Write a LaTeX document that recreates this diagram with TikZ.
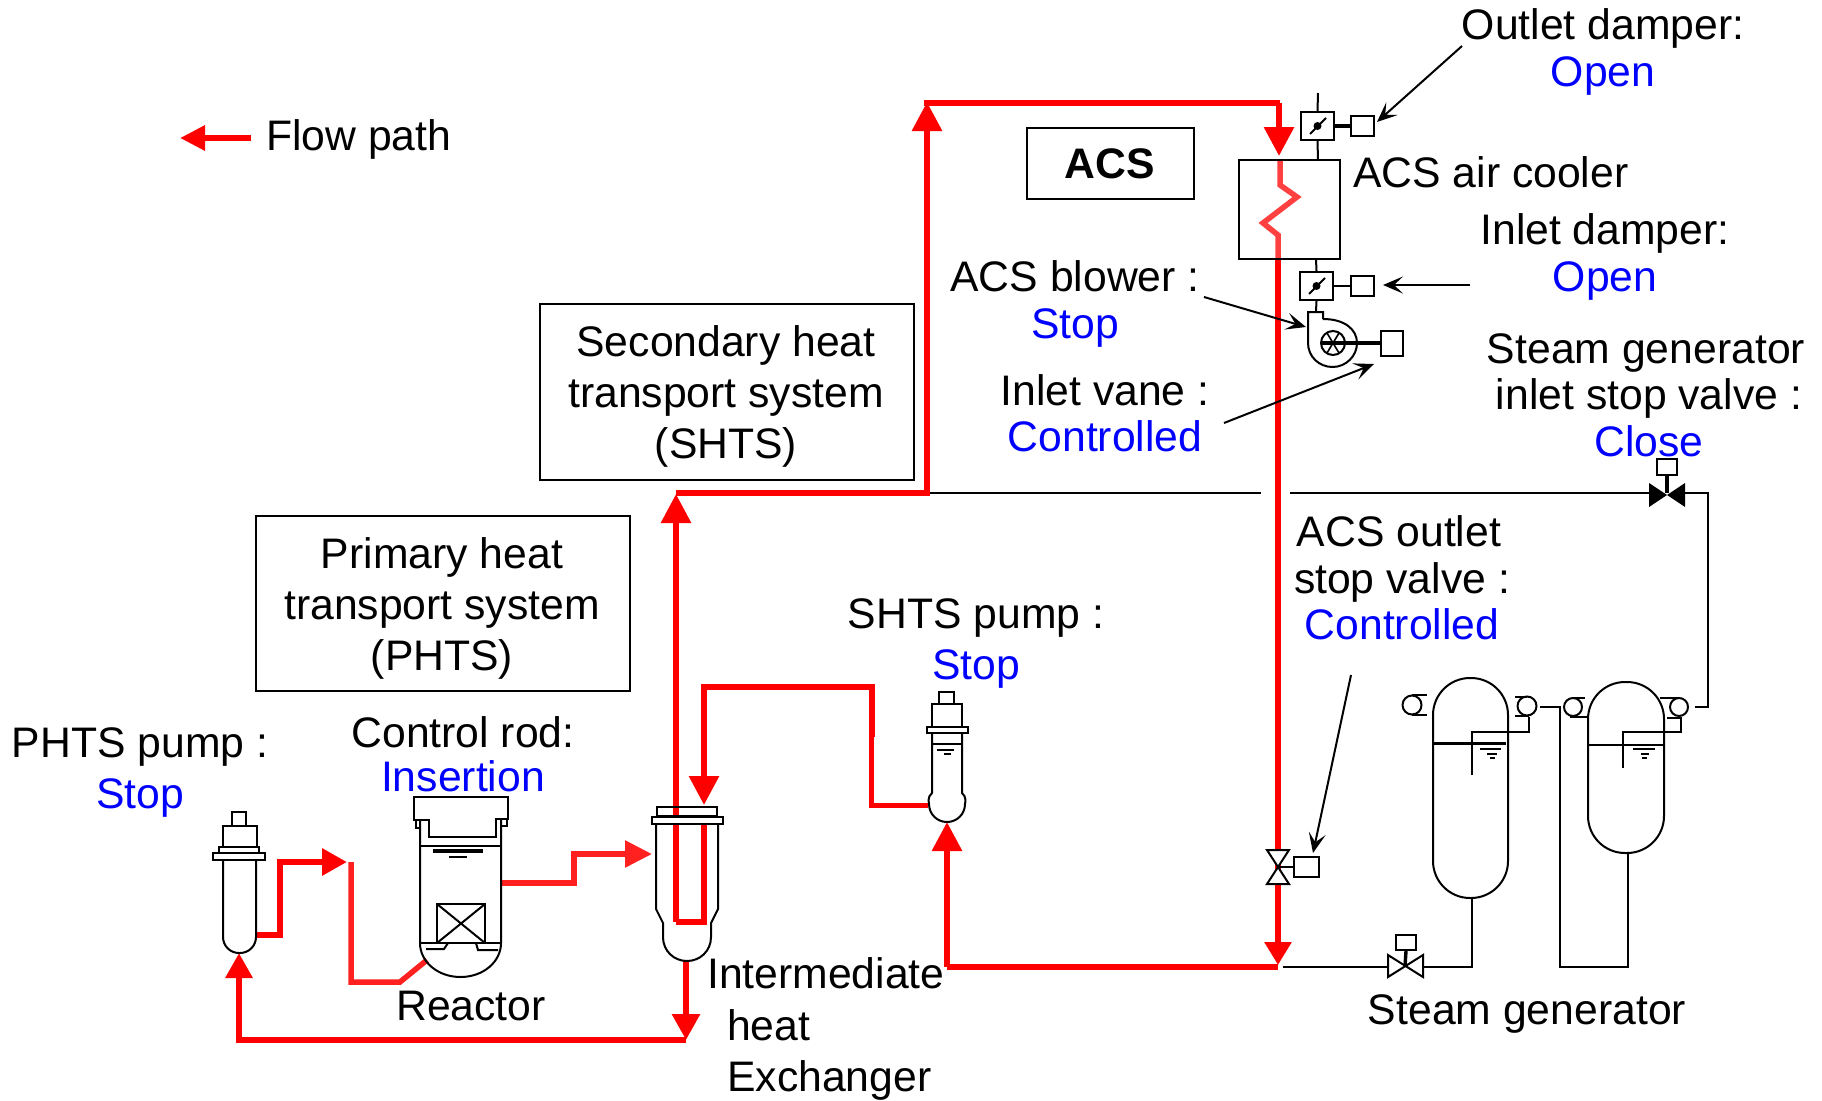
\documentclass[tikz,border=0pt]{standalone}
\usepackage{fontspec}
\setmainfont{Liberation Sans}
\usetikzlibrary{arrows.meta}
\definecolor{flowred}{HTML}{FF0000}
\definecolor{softred}{HTML}{FF2020}
\definecolor{coilred}{HTML}{FF4040}
\definecolor{statblue}{HTML}{0000FF}
\tikzset{
  lbl/.style={font=\fontsize{42.7}{46.5}\selectfont, inner sep=0pt, align=center},
  lblwide/.style={font=\fontsize{42.7}{51}\selectfont, inner sep=0pt, align=center},
  titlebox/.style={draw, line width=1.8pt, inner sep=0pt},
  thin pipe/.style={line width=2pt},
  equip/.style={line width=2pt},
  heavy/.style={line width=3.4pt},
  actbox/.style={draw, line width=2pt, inner sep=0pt},
  redpipe/.style={draw=flowred, line width=6pt},
  softpipe/.style={draw=softred, line width=5.5pt},
  redhead/.style={-{Triangle[length=29pt,width=29pt]}},
  note/.style={line width=2pt, -{Stealth[length=20pt,width=17pt,inset=9pt]}},
}
\newcommand{\stat}[1]{\textcolor{statblue}{#1}}
\begin{document}
\begin{tikzpicture}[x=1pt,y=-1pt]
\useasboundingbox (0,0) rectangle (1822,1100);

% ---------- title boxes
\node[titlebox, minimum width=167pt, minimum height=71pt] (acsbox) at (1110.5,163.5) {};
\node[font=\fontsize{42.7}{46}\selectfont\bfseries, inner sep=0pt] (acsname) at (1110,164) {ACS};
\node[titlebox, minimum width=374pt, minimum height=176pt] (shtsbox) at (727,392) {};
\node[lblwide] (shtsname) at (726,396) {Secondary heat\\transport system\\(SHTS)};
\node[titlebox, minimum width=374pt, minimum height=175pt] (phtsbox) at (443,603.5) {};
\node[lblwide] (phtsname) at (442,608) {Primary heat\\transport system\\(PHTS)};

% ---------- legend
\coordinate (legR) at (251,138);
\coordinate (legL) at (180,138);
\draw[redpipe, -{Triangle[length=25pt,width=24pt]}] (legR) -- (legL);
\node[lbl, anchor=west] (legtxt) at (266,139) {Flow path};

% ---------- labels
\node[lbl] (outd) at (1603,52) {Outlet damper:\\\stat{Open}};
\node[lbl, anchor=west] (coolerlbl) at (1353,172) {ACS air cooler};
\node[lbl] (ind) at (1605,257) {Inlet damper:\\\stat{Open}};
\node[lbl] (blow) at (1075,304) {ACS blower :\\\stat{Stop}};
\node[lbl] (vane) at (1105,413) {Inlet vane :\\\stat{Controlled}};
\node[lbl] (sgstop) at (1646,395) {Steam generator\\\hspace*{6pt}inlet stop valve :\\\hspace*{6pt}\stat{Close}};
\node[lbl] (acsout) at (1399,578) {ACS outlet\\\hspace*{6pt}stop valve :\\\hspace*{6pt}\stat{Controlled}};
\node[lblwide] (shtsp) at (976,644) {SHTS pump :\\\stat{Stop}};
\node[lblwide] (phtsp) at (140,773) {PHTS pump :\\\stat{Stop}};
\node[font=\fontsize{42.7}{44}\selectfont, inner sep=0pt, align=center] (crod) at (463,754) {Control rod:\\\stat{Insertion}};
\node[lbl] (reactlbl) at (471,1006) {Reactor};
\node[lbl, anchor=west] (ihx1) at (707,973) {Intermediate};
\node[lbl, anchor=west] (ihx2) at (727,1025) {heat};
\node[lbl, anchor=west] (ihx3) at (727,1080) {Exchanger};
\node[lbl] (sglbl) at (1527,1014) {Steam generator};

% ---------- equipment anchors
\coordinate (rT1) at (1280,103);
\coordinate (rT0) at (927,103);
\coordinate (r493a) at (927,493);
\coordinate (r493b) at (676,493);
\coordinate (cTop) at (1280,160);
\coordinate (cBot) at (1278,259);
\coordinate (vTop) at (1278,850);
\coordinate (vBot) at (1278,884);
\coordinate (rJoin) at (1278,966);
\coordinate (rCor) at (947,967);
\coordinate (shtsIn) at (947,822);

% ---------- red flow paths
\draw[redpipe] (rT0) ++(0,-3) -- ++(0,6);
\draw[redpipe, redhead] (1279,103) -- (1279,156);
\draw[redpipe] (rT0) -- (rT1);
\draw[redpipe, redhead] (927,496) -- (927,102);
\draw[redpipe] (927,493) -- (r493b);
\draw[redpipe, redhead] (676,922) -- (676,494);
\draw[redpipe] (676,922) -- (704,922) -- (704,824);
\draw[redpipe, redhead] (872,737) -- (872,687) -- (704,687) -- (704,805);
\draw[draw=flowred, line width=5pt] (871,737) -- (871,805) -- (928,805);
\draw[redpipe, redhead] (rCor) -- (shtsIn);
\draw[redpipe] (1278,967) -- (rCor);
\draw[redpipe, -{Triangle[length=23pt,width=26pt]}] (cBot) -- (1278,965);
\draw[draw=coilred, line width=5.5pt] (cTop) -- (1280,185) -- (1297,197) -- (1263,223) -- (1278,235) -- (cBot);
% primary
\draw[redpipe, -{Triangle[length=26pt,width=27pt]}] (686,961) -- (686,1040);
\draw[redpipe, -{Triangle[length=25pt,width=26pt]}] (686,1040) -- (239,1040) -- (239,953);
\draw[redpipe, -{Triangle[length=25pt,width=26pt]}] (257,935) -- (280,935) -- (280,862) -- (347,862);
\draw[softpipe] (351,862) -- (351,982) -- (400,982) -- (427,960);
\draw[softpipe, -{Triangle[length=27pt,width=26pt]}] (502,883) -- (574,883) -- (574,854) -- (652,854);

% ---------- IHX
\draw[equip] (656,824) -- (656,909) -- (663,923) -- (663,937) .. controls (663,951) and (674,961) .. (687,961) .. controls (700,961) and (711,951) .. (711,937) -- (711,923) -- (718,909) -- (718,824);
\draw[equip] (657,816) rectangle (717,807);
\draw[equip, fill=white] (652,817) rectangle (723,824);

% ---------- PHTS pump
\draw[equip] (232,812) rectangle (246,826);
\draw[equip] (223,826) rectangle (257,847);
\draw[equip] (219,847) rectangle (259,853);
\draw[equip] (213,853) rectangle (265,860);
\draw[equip, rounded corners=16pt] (223,860) -- (223,953) -- (256,953) -- (256,860);

% ---------- reactor
\draw[equip] (429,820) -- (414,820) -- (414,797) -- (508,797) -- (508,819) -- (496,819) -- (496,837) -- (429,837) -- cycle;
\draw[equip] (416,820) -- (416,828) -- (420,828);
\draw[equip] (507,819) -- (507,826) -- (501,826);
\draw[equip] (420,820) -- (420,943) .. controls (420,962) and (438,977) .. (460.5,977) .. controls (483,977) and (501,962) .. (501,943) -- (501,819);
\draw[equip] (420,846) -- (501,846);
\draw[heavy] (433,851) -- (483,851);
\draw[heavy, line width=2.6pt] (449,857) -- (467,857);
\draw[equip] (437,904) rectangle (485,943);
\draw[equip] (437,904) -- (485,943) (437,943) -- (485,904);
\draw[heavy, line width=2.6pt] (420,943) -- (501,943);
\draw[equip] (448,943) -- (444,949) -- (426,949);
\draw[equip] (476,943) -- (478,950) -- (498,950);

% ---------- SHTS pump
\draw[equip] (939,692) rectangle (954,704);
\draw[equip] (932,704) rectangle (962,727);
\draw[equip] (927,727) rectangle (968,733);
\draw[equip] (932,733) -- (932,793) .. controls (927,797) and (929,803) .. (929,804) .. controls (929,814) and (937,822) .. (947,822) .. controls (957,822) and (965,814) .. (965,804) .. controls (965,803) and (967,797) .. (962,793) -- (962,733);
\draw[heavy, line width=2.6pt] (932,744) -- (962,744);
\draw[equip] (937,750) -- (954,750);
\draw[heavy, line width=2.4pt] (944,754) -- (951,754);

% ---------- cooler, dampers, blower
\node[draw, line width=2pt, inner sep=0pt, minimum width=101pt, minimum height=99pt] (cooler) at (1289.5,209.5) {};
\coordinate (topstub) at (1318,93);
\node[actbox, minimum width=33pt, minimum height=28pt] (odbox) at (1317.5,126) {};
\node[actbox, minimum width=23pt, minimum height=20pt] (odact) at (1362.5,126) {};
\draw[equip] (topstub) -- (odbox.north);
\draw[equip] (odbox.south) -- (1318,160);
\draw[line width=3.4pt] (odbox.east) -- (odact.west);
\fill (odbox.center) circle[radius=4pt];
\draw[line width=2pt] (1310,134) -- (1326,118);

\node[actbox, minimum width=33pt, minimum height=28pt] (idbox) at (1316.5,286) {};
\node[actbox, minimum width=23pt, minimum height=20pt] (idact) at (1362.5,286) {};
\draw[equip] (1316,259) -- (idbox.north);
\draw[equip] (idbox.south) -- (1316,311);
\draw[line width=2pt] (idbox.east) -- (idact.west);
\fill (idbox.center) circle[radius=4pt];
\draw[line width=2pt] (1309,294) -- (1325,278);

\draw[equip] (1323,319) -- (1323,312) -- (1308,312) -- (1308,343) .. controls (1308,356.5) and (1319,367) .. (1332.5,367) .. controls (1346,367) and (1357,356) .. (1357,343) .. controls (1357,329) and (1344,319) .. (1323,319);
\node[draw, circle, line width=2pt, minimum size=24pt, inner sep=0pt] (imp) at (1333,343) {};
\draw[line width=1.6pt] (1327,333) -- (1339,353) (1327,353) -- (1339,333);
\node[actbox, minimum width=22pt, minimum height=25pt] (vaneact) at (1392,343) {};
\draw[line width=3.4pt] (1321,343) -- (vaneact.west);

% ---------- valve on ACS outlet
\draw[equip, fill=white] (1267,850) -- (1289,850) -- (1267,884) -- (1289,884) -- cycle;
\node[actbox, minimum width=25pt, minimum height=20pt] (aovact) at (1306.5,867) {};
\coordinate (aov) at (1278,867);
\draw[equip] (aov) -- (aovact.west);

% ---------- steam generator feed
\coordinate (sgL) at (1283,967);
\coordinate (sgv) at (1405,966);
\draw[thin pipe] (sgL) -- (1388,967);
\draw[equip] (1388,955) -- (1423,977) -- (1423,955) -- (1388,977) -- cycle;
\node[actbox, minimum width=20pt, minimum height=15pt] (sgvact) at (1406,942.5) {};
\draw[line width=3.4pt] (sgv) -- (sgvact.south);
\draw[thin pipe] (1423,967) -- (1472,967) -- (1472,898);

% ---------- steam generator 1
\node[draw, line width=2pt, inner sep=0pt, minimum width=75pt, minimum height=220pt, rounded corners=37pt] (sg1) at (1470.5,788) {};
\draw[line width=3pt] (1433,743) -- (1506,743);
\draw[equip] (1480,749) -- (1501,749);
\draw[equip] (1487,754) -- (1497,754);
\draw[equip] (1490,758) -- (1495,758);
\draw[equip] (1472,775) -- (1472,732) -- (1529,732) -- (1529,717);
\draw[equip] (1527,706) circle[radius=9.5pt];
\draw[equip] (1515,697) -- (1527,697) (1515,716) -- (1529,716);
\draw[equip] (1412,705) circle[radius=9.5pt];
\draw[equip] (1412,695) -- (1427,695) (1412,715) -- (1427,715);

% ---------- steam generator 2
\node[draw, line width=2pt, inner sep=0pt, minimum width=76pt, minimum height=171pt, rounded corners=37pt] (sg2) at (1626,767.5) {};
\draw[line width=2.4pt] (1588,745) -- (1664,745);
\draw[equip] (1633,749) -- (1655,749);
\draw[equip] (1641,754) -- (1649,754);
\draw[equip] (1642,758) -- (1647,758);
\draw[equip] (1623,768) -- (1623,732) -- (1681,732) -- (1681,717);
\draw[equip] (1679,707) circle[radius=9pt];
\draw[equip] (1660,698) -- (1679,698) (1667,718) -- (1682,718);
\draw[equip] (1573,707) circle[radius=9pt];
\draw[equip] (1573,698) -- (1585,698) (1570,717) -- (1587,717);
\draw[thin pipe] (1540,707) -- (1560,707) -- (1560,967) -- (1628,967) -- (1628,853);

% ---------- SG inlet stop valve and feed line
\coordinate (sivC) at (1667,493);
\fill (1649,483) -- (1685,507) -- (1685,483) -- (1649,507) -- cycle;
\node[actbox, minimum width=20pt, minimum height=16pt] (sivact) at (1667,467) {};
\draw[line width=3.4pt] (sivC) -- (sivact.south);
\draw[thin pipe] (1685,493) -- (1708,493) -- (1708,707) -- (1695,707);
\draw[thin pipe] (1290,493) -- (1649,493);
\draw[thin pipe] (930,493) -- (1261,493);

% ---------- annotation arrows
\coordinate (n1a) at (1462,46);  \coordinate (n1b) at (1377,122);
\coordinate (n2a) at (1470,285); \coordinate (n2b) at (1383,285);
\coordinate (n3a) at (1204,297); \coordinate (n3b) at (1306,327);
\coordinate (n4a) at (1224,423); \coordinate (n4b) at (1374,364);
\coordinate (n5a) at (1351,675); \coordinate (n5b) at (1313,853);
\draw[note] (n1a) -- (n1b);
\draw[note] (n2a) -- (n2b);
\draw[note] (n3a) -- (n3b);
\draw[note] (n4a) -- (n4b);
\draw[note] (n5a) -- (n5b);
\end{tikzpicture}
\end{document}
